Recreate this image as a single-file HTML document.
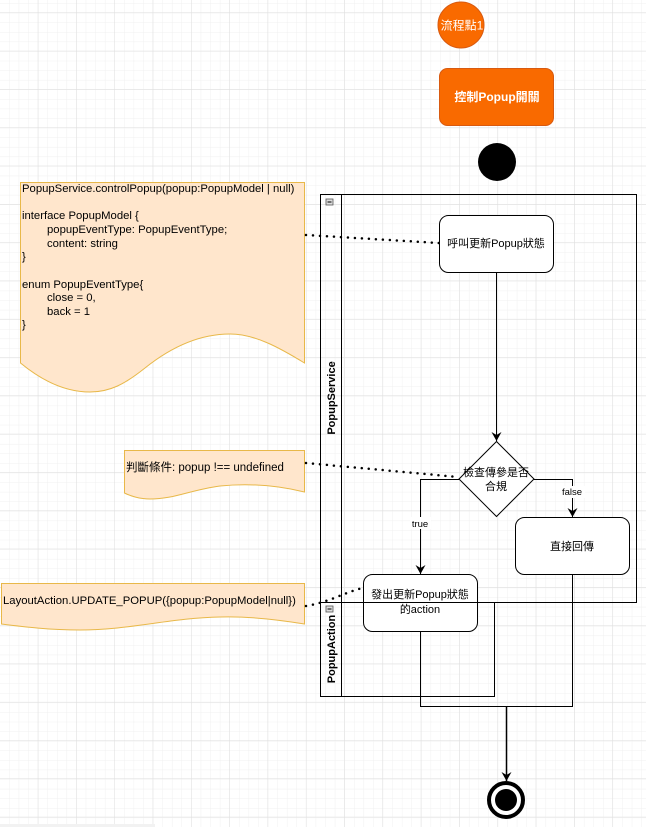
<!DOCTYPE html>
<html><head><meta charset="utf-8"><style>
html,body{margin:0;padding:0;background:#fff;}
svg{display:block;}
text{font-family:"Liberation Sans","Noto Sans CJK TC",sans-serif;}
</style></head><body>
<svg width="646" height="827" viewBox="0 0 646 827" xmlns="http://www.w3.org/2000/svg">
<defs>
<pattern id="minor" width="9.58" height="9.58" patternUnits="userSpaceOnUse" x="0" y="3.75">
<path d="M9.58 0V9.58M0 9.58H9.58" stroke="#f0f0f0" stroke-width="1" fill="none"/>
</pattern>
<pattern id="major" width="38.3" height="38.3" patternUnits="userSpaceOnUse" x="0" y="13">
<path d="M38.3 0V38.3M0 38.3H38.3" stroke="#dedede" stroke-width="1" fill="none"/>
</pattern>
<marker id="ar" markerWidth="10" markerHeight="10" refX="9" refY="5" orient="auto" markerUnits="userSpaceOnUse">
<path d="M0,0 L9,5 L0,10 L3,5 Z" fill="#000"/>
</marker>
</defs>
<rect width="646" height="827" fill="url(#minor)"/>
<rect width="646" height="827" fill="url(#major)"/>

<!-- top -->
<circle cx="461" cy="25" r="23" fill="#f96a00" stroke="#d85a10"/>
<text x="462" y="29.5" font-size="12" fill="#fff" text-anchor="middle">流程點1</text>
<rect x="439.5" y="68.5" width="114" height="57" rx="8" fill="#f96a00" stroke="#d85a10"/>
<text x="497" y="101" font-size="12" fill="#fff" text-anchor="middle" font-weight="bold">控制Popup開關</text>
<circle cx="497" cy="162" r="19" fill="#000"/>

<!-- pools -->
<rect x="320.5" y="194.5" width="316" height="408" fill="none" stroke="#000"/>
<line x1="341.5" y1="194.5" x2="341.5" y2="602.5" stroke="#000"/>
<rect x="326" y="199" width="7" height="6" fill="#ddd" stroke="#555" stroke-width="0.8"/>
<line x1="327.5" y1="202" x2="331.5" y2="202" stroke="#000"/>
<text transform="translate(335,398) rotate(-90)" font-size="11" font-weight="bold" text-anchor="middle">PopupService</text>
<rect x="320.5" y="602.5" width="174" height="94" fill="none" stroke="#000"/>
<line x1="341.5" y1="602.5" x2="341.5" y2="696.5" stroke="#000"/>
<rect x="326" y="606" width="7" height="6" fill="#ddd" stroke="#555" stroke-width="0.8"/>
<line x1="327.5" y1="609" x2="331.5" y2="609" stroke="#000"/>
<text transform="translate(335,649) rotate(-90)" font-size="11" font-weight="bold" text-anchor="middle">PopupAction</text>

<!-- notes -->
<path d="M20.5,182.5 H304.5 V363 C280,348 255,334 230,334 C195,334 165,352 145,368 C125,384 110,392 90,392 C60,392 35,375 20.5,363 Z" fill="#ffe6cc" stroke="#e8b849"/>
<g font-size="11.3" fill="#000">
<text x="22" y="192">PopupService.controlPopup(popup:PopupModel | null)</text>
<text x="22" y="219">interface PopupModel  {</text>
<text x="47" y="233">popupEventType: PopupEventType;</text>
<text x="47" y="247">content: string</text>
<text x="22" y="260">}</text>
<text x="22" y="288">enum PopupEventType{</text>
<text x="47" y="301">close = 0,</text>
<text x="47" y="315">back = 1</text>
<text x="22" y="328">}</text>
</g>
<path d="M124.5,450.5 H304.5 V492 C280,486 250,483 220,486 C190,490 175,499 150,499 C140,499 130,496 124.5,493 Z" fill="#ffe6cc" stroke="#e8b849"/>
<text x="126" y="471" font-size="11.5">判斷條件: popup !== undefined</text>
<path d="M1.5,583.5 H304.5 V624 C280,620 250,616 220,617 C170,618 130,630 80,630 C50,630 25,627 1.5,624 Z" fill="#ffe6cc" stroke="#e8b849"/>
<text x="3" y="604" font-size="11.3">LayoutAction.UPDATE_POPUP({popup:PopupModel|null})</text>

<!-- dotted -->
<g stroke="#000" stroke-width="2.5" stroke-dasharray="0,7" stroke-linecap="round" fill="none">
<path d="M306,235 L439,243"/>
<path d="M306,463 L458,477"/>
<path d="M306,606 C330,602 345,592 363,588"/>
</g>

<!-- flow -->
<rect x="439.5" y="215.5" width="114" height="57" rx="9" fill="#fff" stroke="#000"/>
<text x="496" y="247" font-size="11" text-anchor="middle">呼叫更新Popup狀態</text>
<line x1="496.5" y1="272" x2="496.5" y2="441" stroke="#000" marker-end="url(#ar)"/>
<path d="M496.5,441.5 L534,479 L496.5,516.5 L459,479 Z" fill="#fff" stroke="#000"/>
<text x="496" y="476" font-size="11" text-anchor="middle">檢查傳參是否</text>
<text x="496" y="490" font-size="11" text-anchor="middle">合規</text>
<path d="M534,479.5 H572.5 V517" fill="none" stroke="#000" marker-end="url(#ar)"/>
<rect x="560" y="486" width="25" height="12" fill="#fff"/>
<text x="572" y="495" font-size="9.5" text-anchor="middle">false</text>
<path d="M459,479.5 H420.5 V574" fill="none" stroke="#000" marker-end="url(#ar)"/>
<rect x="410" y="517" width="21" height="12" fill="#fff"/>
<text x="420" y="527" font-size="9.5" text-anchor="middle">true</text>
<rect x="515.5" y="517.5" width="114" height="57" rx="9" fill="#fff" stroke="#000"/>
<text x="572" y="550" font-size="11" text-anchor="middle">直接回傳</text>
<rect x="363.5" y="574.5" width="114" height="57" rx="9" fill="#fff" stroke="#000"/>
<line x1="320.5" y1="602.5" x2="478" y2="602.5" stroke="#000"/>
<text x="420" y="598" font-size="11" text-anchor="middle">發出更新Popup狀態</text>
<text x="420" y="613" font-size="11" text-anchor="middle">的action</text>
<path d="M420.5,631 V706.5 H572.5 V574.5" fill="none" stroke="#000"/>
<line x1="506.5" y1="706.5" x2="506.5" y2="781" stroke="#000" stroke-width="1.5" marker-end="url(#ar)"/>
<circle cx="506" cy="800" r="17" fill="#fff" stroke="#000" stroke-width="4"/>
<circle cx="506" cy="800" r="11" fill="#000"/>
<rect x="0" y="824" width="155" height="3" fill="#f2f2f2"/>
</svg>
</body></html>
